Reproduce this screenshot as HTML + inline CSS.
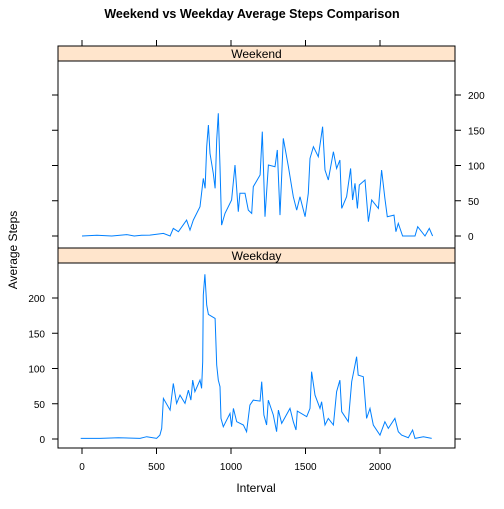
<!DOCTYPE html>
<html><head><meta charset="utf-8"><style>
body{margin:0;background:#fff}
svg text{font-family:"Liberation Sans",sans-serif}
</style></head><body>
<svg id="c" width="504" height="504" xmlns="http://www.w3.org/2000/svg">
<text x="252" y="18" text-anchor="middle" font-size="12.5" font-weight="bold">Weekend vs Weekday Average Steps Comparison</text>
<text x="17" y="250" text-anchor="middle" font-size="12" transform="rotate(-90 17 250)">Average Steps</text>
<text x="256" y="492" text-anchor="middle" font-size="12">Interval</text>
<g id="g"></g>
</svg>
<script>
const xTicks=[0,500,1000,1500,2000];
const yTicks=[0,50,100,150,200];
const weekdayZoomPts=[[62,520],[120,520],[175,518],[240,520],[260,515],[290,520],[300,510],[305,490],[310,400],[330,435],[340,355],[350,415],[360,390],[375,415],[385,375],[393,405],[398,345],[405,380],[420,345],[425,370],[428,290],[430,90],[435,28],[440,120],[445,148],[465,160],[470,300],[475,345],[480,365],[483,460],[490,485],[510,445],[515,485],[520,430],[530,470],[550,480],[560,500],[570,420],[580,405],[600,408],[605,350],[612,450],[620,480],[625,405],[640,450],[650,500],[655,435],[665,475],[690,430],[700,470],[708,495],[712,438],[740,455],[750,430],[755,320],[765,390],[780,430],[785,410],[795,480],[805,460],[820,480],[830,380],[840,345],[845,440],[865,470],[875,350],[885,300],[890,275],[895,330],[910,335],[920,460],[930,430],[940,480],[960,510],[975,470],[985,490],[1005,460],[1015,500],[1025,510],[1045,518],[1058,495],[1065,520],[1090,515],[1115,520]];
const weekendZoomPts=[[0,405],[40,400],[60,408],[70,385],[85,395],[110,360],[120,390],[130,360],[150,320],[160,235],[165,265],[170,140],[175,75],[180,160],[190,220],[195,265],[200,120],[205,40],[210,200],[215,375],[225,340],[245,300],[255,195],[265,335],[270,280],[285,280],[295,330],[305,340],[310,260],[330,225],[337,95],[345,350],[355,195],[375,200],[382,150],[390,345],[400,115],[415,200],[430,290],[440,330],[450,290],[465,350],[475,280],[480,175],[490,140],[505,170],[518,80],[525,210],[535,240],[550,155],[560,205],[570,180],[575,325],[590,290],[602,205],[608,300],[615,250],[622,325],[628,255],[645,240],[655,365],[665,300],[685,325],[695,210],[705,295],[712,350],[732,345],[738,395],[745,370],[758,410],[795,410],[803,380],[825,410],[838,385],[848,410]];
const weekendIntervals=[0,100,200,300,350,400].concat(weekendZoomPts.map(p=>Math.round(456.4+p[0]*2.237)));
const weekendValues=[0,1,0,2,0,1].concat(weekendZoomPts.map(p=>Math.max(0,+(192.9-p[1]*0.473).toFixed(1))));
const weekdayIntervals=weekdayZoomPts.map(p=>Math.round(p[0]*2.237-147.7));
const weekdayValues=weekdayZoomPts.map(p=>Math.max(0,+(246.8-p[1]*0.473).toFixed(1)));

const NS="http://www.w3.org/2000/svg",g=document.getElementById('g');
function el(t,a,p){const e=document.createElementNS(NS,t);for(const k in a)e.setAttribute(k,a[k]);(p||g).appendChild(e);return e;}
const X=v=>82+v*0.149;
const L=58,R=455;
const panels=[{name:'weekend',label:'Weekend',st:46,top:61,bot:248,y0:236,xs:weekendIntervals,ys:weekendValues,right:true},
{name:'weekday',label:'Weekday',st:248,top:263,bot:448,y0:439,xs:weekdayIntervals,ys:weekdayValues,right:false}];
panels.forEach(p=>{
 const Y=v=>p.y0-v*0.705;
 const s=el('rect',{x:L,y:p.st,width:R-L,height:p.top-p.st,fill:'#ffe5cc',stroke:'#000','stroke-width':1});
 
 
 const st=el('text',{x:(L+R)/2,y:p.top-3,'text-anchor':'middle','font-size':12});st.textContent=p.label;
 
 
 const fr=el('rect',{x:L,y:p.top,width:R-L,height:p.bot-p.top,fill:'none',stroke:'#000'});
 
 
 yTicks.forEach(v=>{
  const y=Y(v);
  el('line',{x1:L-6,x2:L,y1:y,y2:y,stroke:'#000'});
  el('line',{x1:R,x2:R+6,y1:y,y2:y,stroke:'#000'});
  const t=el('text',{x:p.right?R+13:L-13,y:y+4,'text-anchor':p.right?'start':'end','font-size':10});
  t.textContent=v;
  
  
 });
 let d='';p.xs.forEach((x,i)=>{d+=(i?'L':'M')+X(x).toFixed(1)+','+Y(p.ys[i]).toFixed(1);});
 const ln=el('path',{d:d,fill:'none',stroke:'#0080ff','stroke-width':1});
 
 
});
xTicks.forEach(v=>{
 const x=X(v);
 el('line',{x1:x,x2:x,y1:448,y2:454,stroke:'#000'});
 el('line',{x1:x,x2:x,y1:40,y2:46,stroke:'#000'});
 const t=el('text',{x:x,y:470,'text-anchor':'middle','font-size':10});t.textContent=v;
 
 
});
</script>
</body></html>
